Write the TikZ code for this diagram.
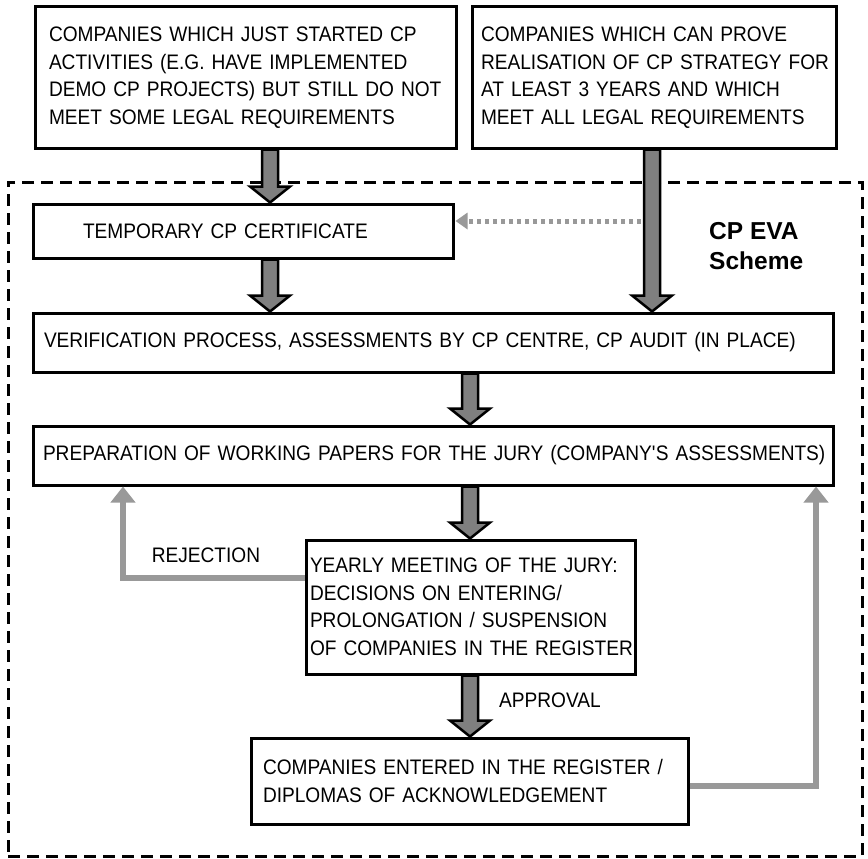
\documentclass[tikz,border=0pt]{standalone}
\usepackage{fontspec}
\setmainfont{Liberation Sans}[FakeStretch=0.91]
\newfontfamily\evafont{Liberation Sans}
\usetikzlibrary{arrows.meta,calc}
\definecolor{arrgray}{HTML}{7F7F7F}
\definecolor{lgray}{HTML}{999999}
\tikzset{
  box/.style={draw, line width=3pt, rectangle, align=left, inner ysep=0pt, fill=white,
    font=\fontsize{21}{27.5}\selectfont},
  schemebox/.style={draw, line width=3pt, dash pattern=on 12pt off 7pt, rectangle, inner sep=0pt},
  bigarr/.style={fill=arrgray, draw=black, line width=2.5pt, line join=miter},
  grayconn/.style={draw=lgray, line width=6pt, -{Triangle[width=24pt,length=16pt]}},
  dotarr/.style={draw=lgray, line width=5pt, dash pattern=on 4pt off 4pt, -{Triangle[width=16pt,length=12pt]}},
  lbl/.style={font=\fontsize{21}{27.5}\selectfont, inner sep=0pt},
  evalbl/.style={font=\evafont\bfseries\fontsize{24.5}{30}\selectfont, inner sep=0pt, anchor=base west}
}
\newcommand\bigarrow[2]{%
  \filldraw[bigarr] let \p1=#1, \p2=#2 in
   (\x1-8pt,\y1) -- (\x1+8pt,\y1) -- (\x1+8pt,\y2+16pt) -- (\x1+20pt,\y2+16pt)
   -- (\x1,\y2) -- (\x1-20pt,\y2+16pt) -- (\x1-8pt,\y2+16pt) -- cycle;}
\begin{document}
\begin{tikzpicture}[x=1pt,y=-1pt]
\useasboundingbox[fill=white] (0,0) rectangle (868,859);
% scheme frame
\node[schemebox, minimum width=854pt, minimum height=674pt] (S) at (435,519) {};
% boxes
\node[box, minimum height=141pt, inner xsep=14pt, text width=393pt] (A) at (245.5,77.5)
  {\mbox{COMPANIES WHICH JUST STARTED CP}\\\mbox{ACTIVITIES (E.G. HAVE IMPLEMENTED}\\\mbox{DEMO CP PROJECTS) BUT STILL DO NOT}\\\mbox{MEET SOME LEGAL REQUIREMENTS}};
\node[box, minimum height=141pt, inner xsep=9pt, text width=346pt] (B) at (654,77.5)
  {\mbox{COMPANIES WHICH CAN PROVE}\\\mbox{REALISATION OF CP STRATEGY FOR}\\\mbox{AT LEAST 3 YEARS AND WHICH}\\\mbox{MEET ALL LEGAL REQUIREMENTS}};
\node[box, minimum height=54pt, inner xsep=50pt, text width=320pt] (T) at (243,231)
  {\mbox{TEMPORARY CP CERTIFICATE}};
\node[box, minimum height=59pt, inner xsep=11pt, text width=778pt] (V) at (433,342.5)
  {\mbox{VERIFICATION PROCESS, ASSESSMENTS BY CP CENTRE, CP AUDIT (IN PLACE)}};
\node[box, minimum height=59pt, inner xsep=10pt, text width=780pt] (P) at (433,455.5)
  {\mbox{PREPARATION OF WORKING PAPERS FOR THE JURY (COMPANY\textquotesingle S ASSESSMENTS)}};
\node[box, minimum height=134pt, inner xsep=4pt, text width=321pt] (Y) at (470.5,607)
  {\mbox{YEARLY MEETING OF THE JURY:}\\\mbox{DECISIONS ON ENTERING/}\\\mbox{PROLONGATION / SUSPENSION}\\\mbox{OF COMPANIES IN THE REGISTER}};
\node[box, minimum height=86pt, inner xsep=12pt, text width=413pt] (E) at (469.5,781)
  {\mbox{COMPANIES ENTERED IN THE REGISTER /}\\\mbox{DIPLOMAS OF ACKNOWLEDGEMENT}\\[9pt]};
% arrow columns
\coordinate (cA) at (270,0);
\coordinate (cB) at (652,0);
\coordinate (cM) at (470,0);
\coordinate (rj) at (123,0);
\coordinate (ap) at (816,0);
% big arrows
\bigarrow{(cA |- A.south)}{(cA |- T.north)}
\bigarrow{(cA |- T.south)}{(cA |- V.north)}
\bigarrow{(cB |- B.south)}{(cB |- V.north)}
\bigarrow{(cM |- V.south)}{(cM |- P.north)}
\bigarrow{(cM |- P.south)}{(cM |- Y.north)}
\bigarrow{(cM |- Y.south)}{(cM |- E.north)}
% dotted arrow
\coordinate (dstart) at ($(cB |- T.east)+(-11,-10)$);
\draw[dotarr] (dstart) -- ($(T.east)+(1,-10)$);
% feedback connectors
\draw[grayconn] ($(Y.west)+(0,-29)$) -| (rj |- P.south);
\draw[grayconn] ($(E.east)+(0,5)$) -| (ap |- P.south);
% labels
\node[lbl] (rej) at (206,555) {REJECTION};
\node[lbl] (appr) at (550,700) {APPROVAL};
\node[evalbl] (eva1) at (709,239) {CP EVA};
\node[evalbl] (eva2) at (709,269) {Scheme};
\end{tikzpicture}
\end{document}
